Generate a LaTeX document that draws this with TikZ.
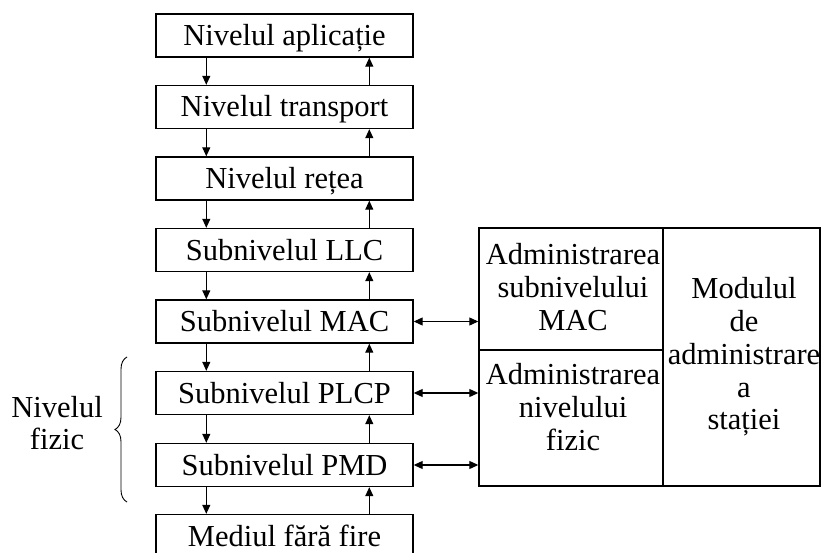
\documentclass[tikz,border=0pt]{standalone}
\usepackage{fontspec}
\setmainfont{Liberation Serif}
\usetikzlibrary{arrows.meta,calc,decorations.pathreplacing}
\begin{document}
\begin{tikzpicture}[x=1pt,y=-1pt,
  txt/.style={font=\fontsize{30.5}{32.8}\selectfont},
  layer/.style={txt,draw,line width=1.4pt,minimum width=257pt,minimum height=43pt,
    inner sep=0pt,text height=20pt,text depth=0pt},
  cell/.style={draw,line width=1.4pt,inner sep=0pt},
  multi/.style={txt,align=center,inner sep=0pt},
  flow/.style={line width=1.1pt,-{Triangle[length=9pt,width=8pt]}},
  both/.style={line width=1.1pt,{Triangle[length=9pt,width=8pt]}-{Triangle[length=9pt,width=8pt]}}
]
\clip (0,0) rectangle (821,553);
\node[layer] (b1) at (284.5,35.5) {Nivelul aplicație};
\node[layer] (b2) at (284.5,107) {Nivelul transport};
\node[layer] (b3) at (284.5,178.5) {Nivelul rețea};
\node[layer] (b4) at (284.5,250) {Subnivelul LLC};
\node[layer] (b5) at (284.5,321.5) {Subnivelul MAC};
\node[layer] (b6) at (284.5,393) {Subnivelul PLCP};
\node[layer] (b7) at (284.5,465) {Subnivelul PMD};
\node[layer] (b8) at (284.5,536) {Mediul fără fire};
\foreach \a/\b in {b1/b2,b2/b3,b3/b4,b4/b5,b5/b6,b6/b7,b7/b8}{
  \draw[flow] ($(\a.south west)+(51,0)$) -- ($(\b.north west)+(51,0)$);
  \draw[flow] ($(\b.north west)+(214,0)$) -- ($(\a.south west)+(214,0)$);
}
\node[cell,minimum width=184pt,minimum height=122pt] (cmac) at (571,289) {};
\node[cell,minimum width=184pt,minimum height=136pt] (cfiz) at (571,418) {};
\node[cell,minimum width=157pt,minimum height=258pt] (cmod) at (741.5,357) {};
\node[multi] (tmac) at (573,287) {Administrarea\\subnivelului\\MAC};
\node[multi] (tfiz) at (573,407) {Administrarea\\nivelului\\fizic};
\node[multi] (tmod) at (744,357) {Modulul\\de\\administrare\\a\\stației};
\draw[both] (b5.east) -- (b5.east -| cmac.west);
\draw[both] (b6.east) -- (b6.east -| cfiz.west);
\draw[both] (b7.east) -- (b7.east -| cfiz.west);
\coordinate (brtop) at (127,357);
\coordinate (brbot) at (127,502);
\draw[line width=0.9pt,decorate,decoration={brace,amplitude=12pt}] (brbot) -- (brtop);
\node[multi] (fiz) at (57,423) {Nivelul\\fizic};
\end{tikzpicture}
\end{document}
